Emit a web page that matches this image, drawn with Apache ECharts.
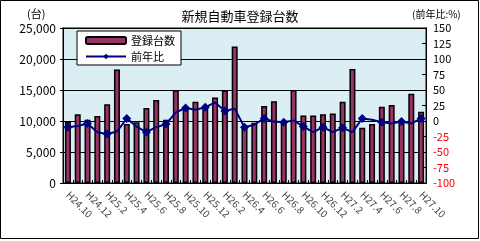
<!DOCTYPE html>
<html>
<head>
<meta charset="utf-8">
<script src="https://cdn.jsdelivr.net/npm/echarts@6/dist/echarts.min.js"></script>
<style>
  html, body { margin: 0; padding: 0; background: #fff; }
  #main { width: 480px; height: 241px; }
</style>
</head>
<body>
<div id="main"></div>
<script>
var months = ['H24.10','H24.11','H24.12',
  'H25.1','H25.2','H25.3','H25.4','H25.5','H25.6','H25.7','H25.8','H25.9','H25.10','H25.11','H25.12',
  'H26.1','H26.2','H26.3','H26.4','H26.5','H26.6','H26.7','H26.8','H26.9','H26.10','H26.11','H26.12',
  'H27.1','H27.2','H27.3','H27.4','H27.5','H27.6','H27.7','H27.8','H27.9','H27.10'];
var counts = [9900, 11100, 10200, 10800, 12700, 18300, 9500, 9800, 12100, 13400, 10200, 15000,
  12100, 13100, 12300, 13800, 14900, 22000, 8900, 9700, 12400, 13200, 9900, 15000,
  10900, 10900, 11100, 11200, 13100, 18400, 8900, 9500, 12300, 12600, 9900, 14400, 11500];
var ratio = [-10, -8, -4, -18, -21, -17, 4, -9, -18, -10, -5, 14,
  21, 18, 22, 30, 16, 20, -10, -6, 4, -1, -2, 1,
  -9, -18, -10, -18, -11, -18, 4, 2, -2, -4, -1, -4, 4];

var font = '"Noto Sans CJK JP", sans-serif';
var chartDom = document.getElementById('main');
var myChart = echarts.init(chartDom);
var option;

option = {
  textStyle: { fontFamily: font },
  title: {
    text: '新規自動車登録台数',
    left: 'center',
    top: 5,
    textStyle: { fontSize: 13, fontWeight: 'normal', color: '#000', fontFamily: font }
  },
  graphic: [
    { type: 'rect', shape: { x: 0.5, y: 0.5, width: 478, height: 238 },
      style: { fill: 'none', stroke: '#000', lineWidth: 1 }, z: -1 },
    { type: 'text', left: 27, top: 8,
      style: { text: '(台)', fontSize: 11, fill: '#000', fontFamily: font } },
    { type: 'text', left: 412, top: 9,
      style: { text: '(前年比:%)', fontSize: 10, fill: '#000', fontFamily: font } }
  ],
  legend: {
    orient: 'vertical',
    left: 77,
    top: 31,
    backgroundColor: '#fff',
    borderColor: '#000',
    borderWidth: 1,
    padding: [4, 6, 3, 8],
    itemGap: 5,
    itemWidth: 40,
    itemHeight: 7,
    textStyle: { fontSize: 11, color: '#000', fontFamily: font },
    data: ['登録台数', '前年比']
  },
  grid: {
    left: 63,
    right: 54,
    top: 28,
    bottom: 58,
    show: true,
    backgroundColor: '#dbeef3',
    borderColor: '#808080',
    borderWidth: 2
  },
  xAxis: {
    type: 'category',
    data: months,
    axisLine: { lineStyle: { color: '#000' } },
    axisTick: { show: true, inside: true, length: 3, interval: 0, lineStyle: { color: '#000' } },
    axisLabel: { interval: 1, rotate: -45, fontSize: 10, color: '#444', margin: 10 }
  },
  yAxis: [
    {
      type: 'value',
      min: 0,
      max: 25000,
      interval: 5000,
      axisLine: { show: true, lineStyle: { color: '#000' } },
      axisTick: { show: true, length: 3, lineStyle: { color: '#000' } },
      splitLine: { lineStyle: { color: '#000', width: 1 } },
      axisLabel: {
        fontSize: 12, color: '#000', margin: 7,
        formatter: function (v) { return v.toLocaleString('en-US'); }
      }
    },
    {
      type: 'value',
      min: -100,
      max: 150,
      interval: 25,
      position: 'right',
      axisLine: { show: true, lineStyle: { color: '#000' } },
      axisTick: { show: true, inside: true, length: 4, lineStyle: { color: '#000' } },
      splitLine: { show: false },
      axisLabel: {
        fontSize: 11, margin: 7,
        color: function (v) { return Number(v) < 0 ? '#ff0000' : '#000'; }
      }
    }
  ],
  series: [
    {
      name: '登録台数',
      type: 'bar',
      data: counts,
      barWidth: 6,
      itemStyle: { color: '#993366', borderColor: '#000', borderWidth: 1.5 }
    },
    {
      name: '前年比',
      type: 'line',
      yAxisIndex: 1,
      data: ratio,
      symbol: 'diamond',
      symbolSize: 9,
      lineStyle: { color: '#000080', width: 2 },
      itemStyle: { color: '#000080' }
    }
  ]
};

option && myChart.setOption(option);
window.addEventListener("resize", function() {
    myChart.resize();
  });
</script>
</body>
</html>
